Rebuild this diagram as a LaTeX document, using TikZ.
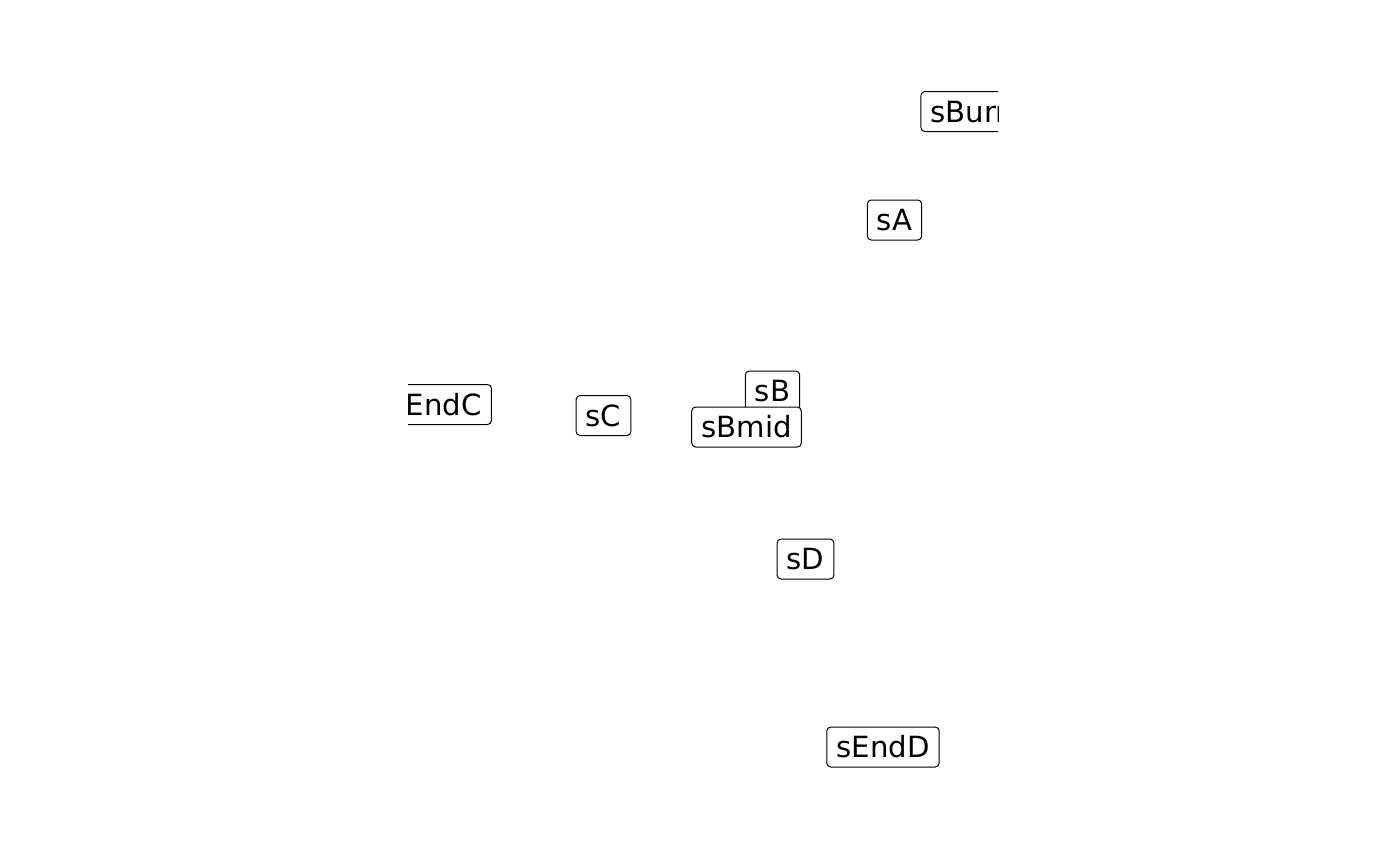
\documentclass[tikz,border=0pt]{standalone}
\usepackage{fontspec}
\setmainfont{DejaVu Sans}
\begin{document}
\begin{tikzpicture}[x=1bp, y=-1bp, lbl/.style={draw, fill=white, rounded corners=4bp,
    line width=1bp, inner xsep=9.6bp, inner ysep=6.2bp, text height=24.5bp, text depth=3.1bp,
    font=\fontsize{29.2bp}{34bp}\selectfont}]
   \useasboundingbox (0,0) rectangle (1400,866);
   \begin{scope}
      \clip (408,0) rectangle (998,866);
      \node[lbl] (sBurn) at (972.4,111.5) {sBurn};
      \node[lbl] (sA) at (894.5,220) {sA};
      \node[lbl] (sEndC) at (436.3,404.5) {sEndC};
      \node[lbl] (sC) at (603.5,415.5) {sC};
      \node[lbl] (sB) at (772.5,391) {sB};
      \node[lbl] (sBmid) at (746.5,427) {sBmid};
      \node[lbl] (sD) at (805.5,559) {sD};
      \node[lbl] (sEndD) at (883,747) {sEndD};
   \end{scope}
\end{tikzpicture}
\end{document}
